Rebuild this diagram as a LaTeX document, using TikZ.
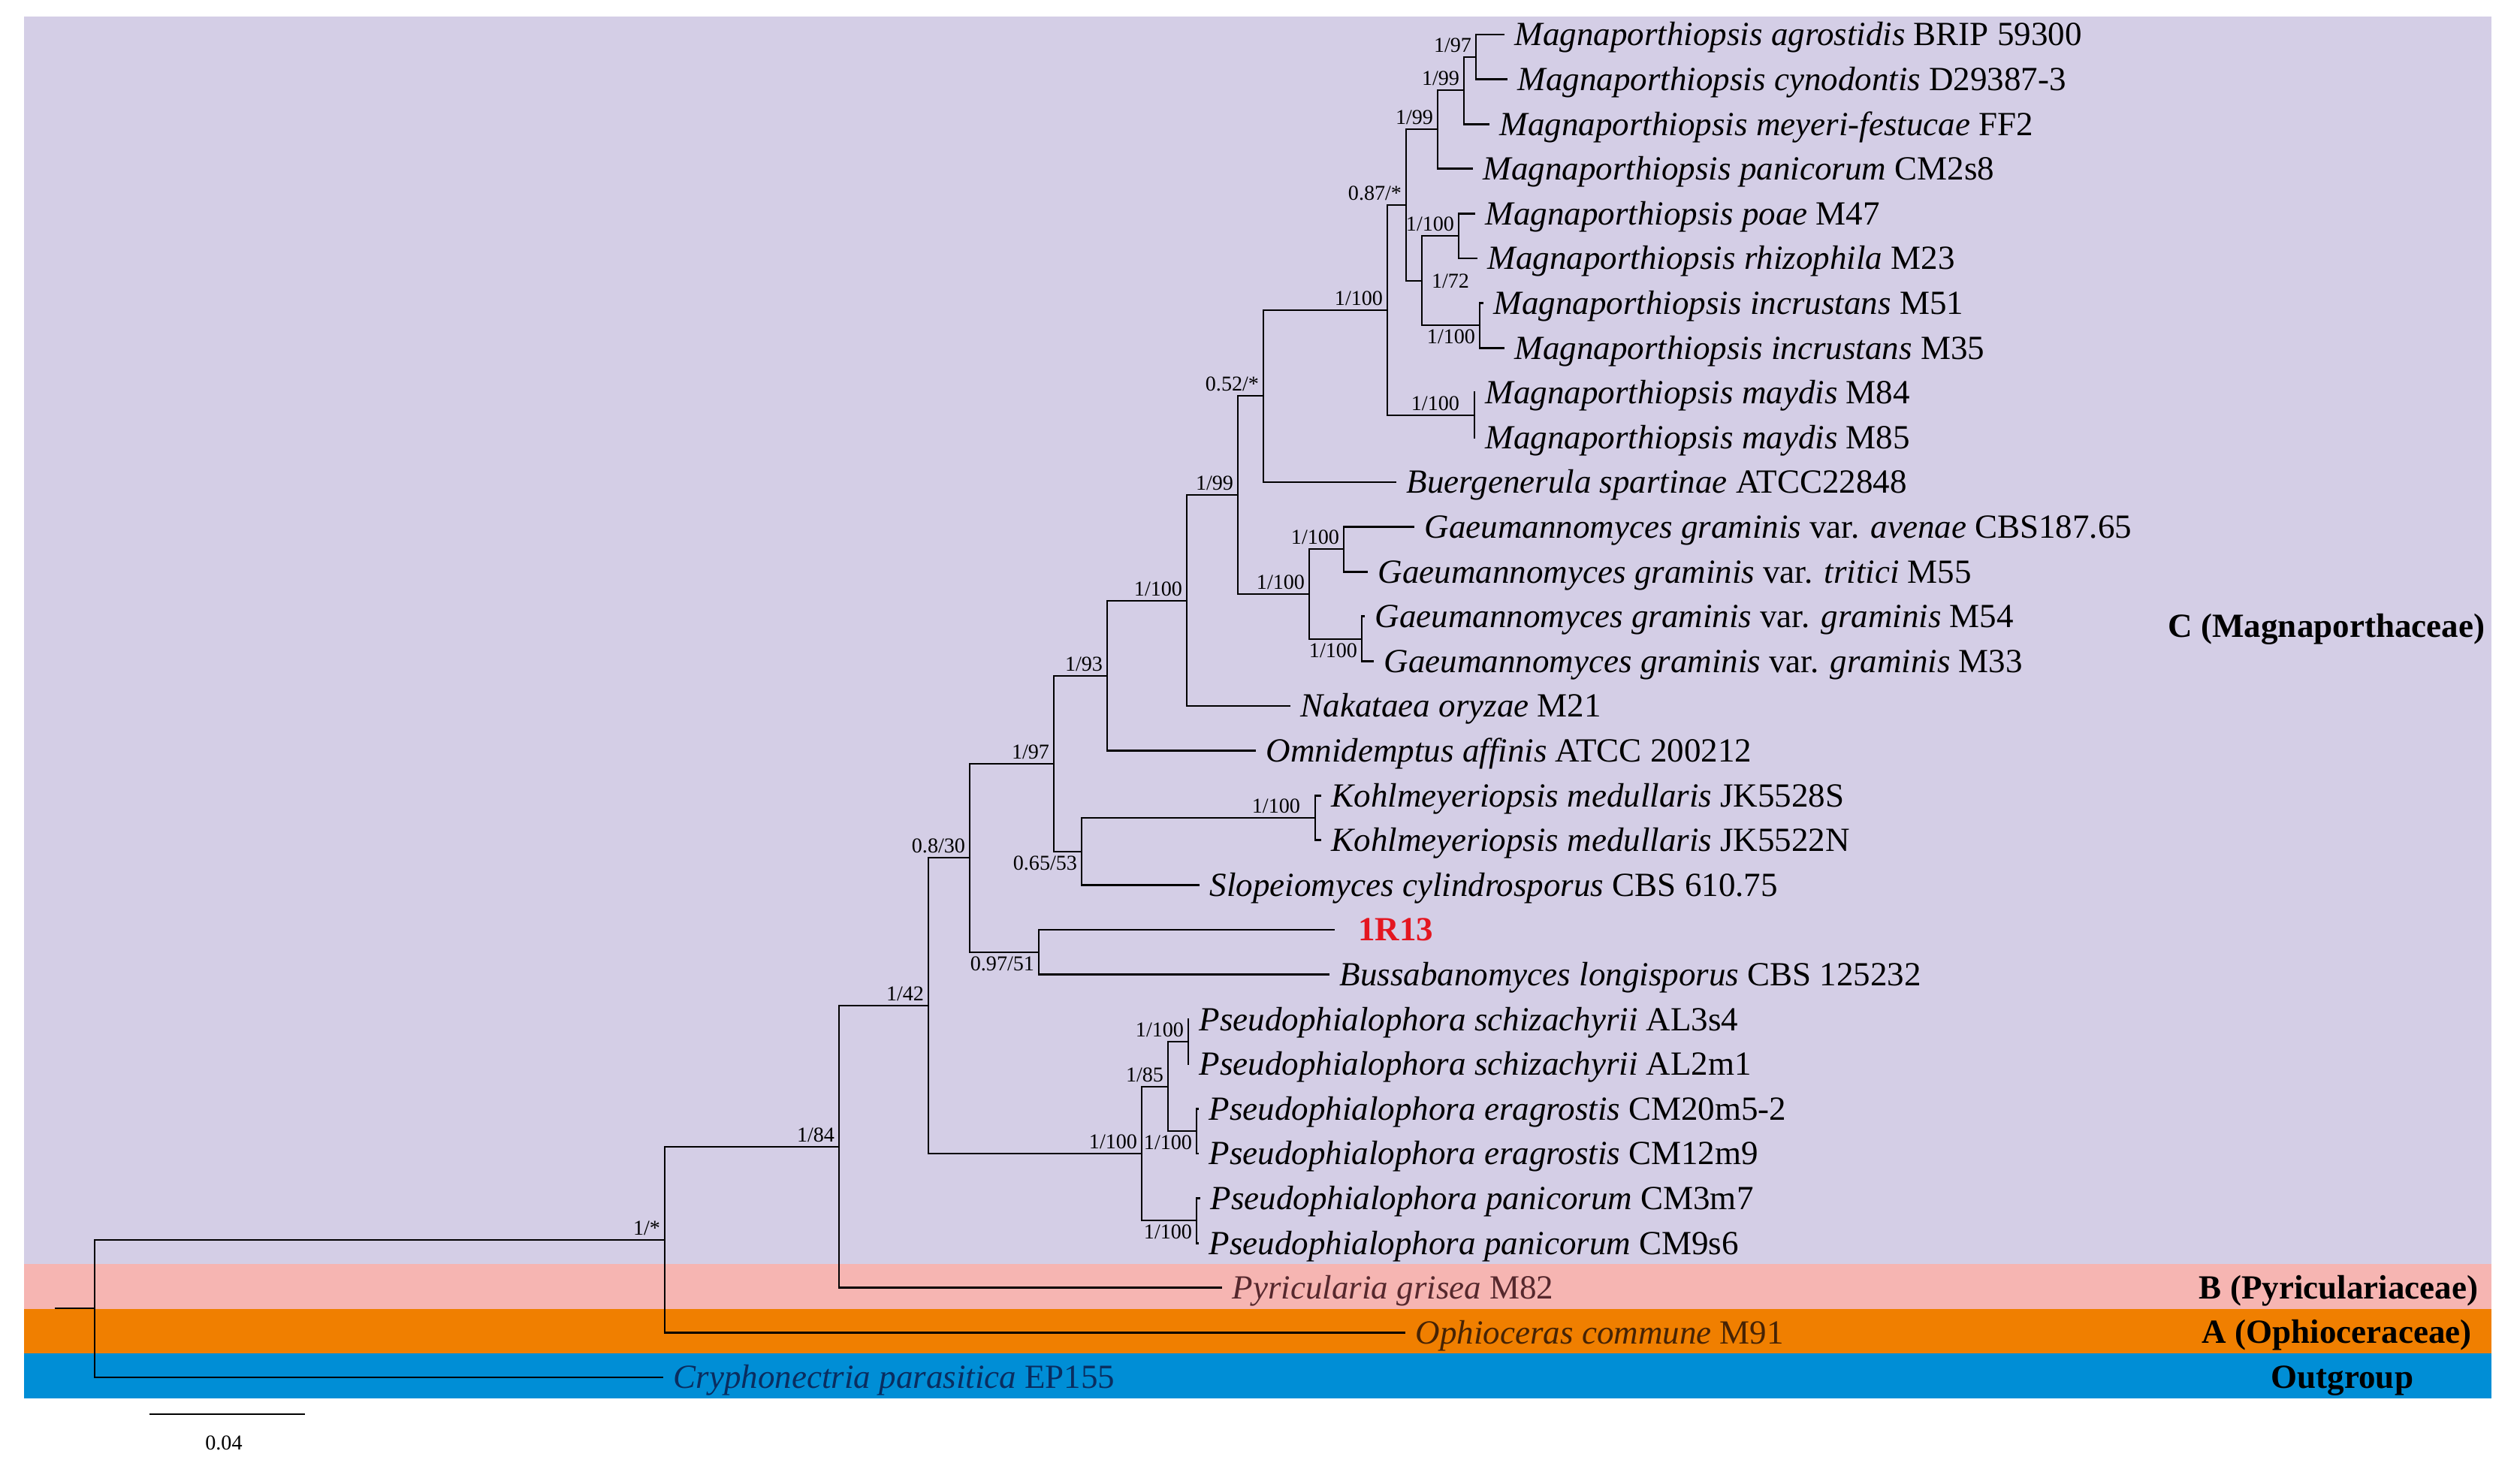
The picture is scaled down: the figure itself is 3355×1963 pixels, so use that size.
\documentclass[tikz,border=0pt]{standalone}
\usepackage{fontspec}
\setmainfont{Liberation Serif}
\usepackage{xcolor}
\usepackage{tikz}

\definecolor{cladeC}{RGB}{212,206,230}
\definecolor{cladeB}{RGB}{246,181,178}
\definecolor{cladeA}{RGB}{240,127,0}
\definecolor{outgrp}{RGB}{0,142,214}
\definecolor{isolate}{RGB}{228,22,32}
\definecolor{inkB}{RGB}{85,40,45}
\definecolor{inkA}{RGB}{70,35,5}
\definecolor{inkO}{RGB}{10,45,95}

\begin{document}
\begin{tikzpicture}[
  x=0.01cm, y=-0.01cm,
  branch/.style={draw=black,line width=0.8pt,line cap=rect},
  taxon/.style={anchor=west,inner ysep=0pt,inner xsep=4pt,text height=8.5pt,text depth=0pt,font=\fontsize{12.8}{15}\selectfont},
  support/.style={anchor=south east,inner sep=1.5pt,font=\fontsize{8}{9}\selectfont},
  clade/.style={anchor=west,inner sep=0pt,text height=8.5pt,text depth=0pt,font=\fontsize{12.8}{15}\selectfont\bfseries}
]
  \useasboundingbox (0,0) rectangle (3355,1963);

  \fill[cladeC] (32,22) rectangle (3317,1683);
  \fill[cladeB] (32,1683) rectangle (3317,1743);
  \fill[cladeA] (32,1743) rectangle (3317,1802);
  \fill[outgrp] (32,1802) rectangle (3317,1862);

  \coordinate (r0)  at (74, 1742);
  \coordinate (r)   at (126, 1742);
  \coordinate (n1)  at (885, 1651);
  \coordinate (n2)  at (1117, 1527);
  \coordinate (n3)  at (1236, 1339);
  \coordinate (n4)  at (1291, 1142);
  \coordinate (n5)  at (1403, 1017);
  \coordinate (n6)  at (1383, 1268);
  \coordinate (n7)  at (1474, 900);
  \coordinate (n8)  at (1440, 1134);
  \coordinate (n9)  at (1751, 1089);
  \coordinate (n10) at (1580, 800);
  \coordinate (n11) at (1648, 659);
  \coordinate (n12) at (1682, 527);
  \coordinate (n13) at (1847, 413);
  \coordinate (n14) at (1872, 273);
  \coordinate (n15) at (1914, 172);
  \coordinate (n16) at (1949, 120);
  \coordinate (n17) at (1965, 76);
  \coordinate (n18) at (1893, 374);
  \coordinate (n19) at (1942, 314);
  \coordinate (n20) at (1970, 433);
  \coordinate (n21) at (1963, 553);
  \coordinate (n22) at (1743, 791);
  \coordinate (n23) at (1789, 731);
  \coordinate (n24) at (1813, 851);
  \coordinate (n25) at (1520, 1536);
  \coordinate (n26) at (1555, 1447);
  \coordinate (n27) at (1582, 1387);
  \coordinate (n28) at (1593, 1506);
  \coordinate (n29) at (1593, 1625);

  \node[taxon] (t1)  at (2002, 46)   {\textit{Magnaporthiopsis agrostidis} BRIP 59300};
  \node[taxon] (t2)  at (2006, 105.6) {\textit{Magnaporthiopsis cynodontis} D29387-3};
  \node[taxon] (t3)  at (1982, 165.2) {\textit{Magnaporthiopsis meyeri-festucae} FF2};
  \node[taxon] (t4)  at (1960, 224.8) {\textit{Magnaporthiopsis panicorum} CM2s8};
  \node[taxon] (t5)  at (1963, 284.4) {\textit{Magnaporthiopsis poae} M47};
  \node[taxon] (t6)  at (1966, 344)   {\textit{Magnaporthiopsis rhizophila} M23};
  \node[taxon] (t7)  at (1974, 403.6) {\textit{Magnaporthiopsis incrustans} M51};
  \node[taxon] (t8)  at (2002, 463.2) {\textit{Magnaporthiopsis incrustans} M35};
  \node[taxon] (t9)  at (1963, 522.8) {\textit{Magnaporthiopsis maydis} M84};
  \node[taxon] (t10) at (1963, 582.4) {\textit{Magnaporthiopsis maydis} M85};
  \node[taxon] (t11) at (1858, 642)   {\textit{Buergenerula spartinae} ATCC22848};
  \node[taxon] (t12) at (1882, 701.6) {\textit{Gaeumannomyces graminis} var. \textit{avenae} CBS187.65};
  \node[taxon] (t13) at (1820, 761.2) {\textit{Gaeumannomyces graminis} var. \textit{tritici} M55};
  \node[taxon] (t14) at (1816, 820.8) {\textit{Gaeumannomyces graminis} var. \textit{graminis} M54};
  \node[taxon] (t15) at (1828, 880.4) {\textit{Gaeumannomyces graminis} var. \textit{graminis} M33};
  \node[taxon] (t16) at (1717, 940)   {\textit{Nakataea oryzae} M21};
  \node[taxon] (t17) at (1671, 999.6) {\textit{Omnidemptus affinis} ATCC 200212};
  \node[taxon] (t18) at (1758, 1059.2) {\textit{Kohlmeyeriopsis medullaris} JK5528S};
  \node[taxon] (t19) at (1758, 1118.8) {\textit{Kohlmeyeriopsis medullaris} JK5522N};
  \node[taxon] (t20) at (1596, 1178.4) {\textit{Slopeiomyces cylindrosporus} CBS 610.75};
  \node[taxon,inner xsep=9pt,text=isolate] (t21) at (1776, 1238) {\textbf{1R13}};
  \node[taxon] (t22) at (1769, 1297.6) {\textit{Bussabanomyces longisporus} CBS 125232};
  \node[taxon] (t23) at (1582, 1357.2) {\textit{Pseudophialophora schizachyrii} AL3s4};
  \node[taxon] (t24) at (1582, 1416.8) {\textit{Pseudophialophora schizachyrii} AL2m1};
  \node[taxon] (t25) at (1595, 1476.4) {\textit{Pseudophialophora eragrostis} CM20m5-2};
  \node[taxon] (t26) at (1595, 1536)   {\textit{Pseudophialophora eragrostis} CM12m9};
  \node[taxon] (t27) at (1597, 1595.6) {\textit{Pseudophialophora panicorum} CM3m7};
  \node[taxon] (t28) at (1595, 1655.2) {\textit{Pseudophialophora panicorum} CM9s6};
  \node[taxon,text=inkB] (t29) at (1626, 1714.8) {\textit{Pyricularia grisea} M82};
  \node[taxon,text=inkA] (t30) at (1870, 1774.4) {\textit{Ophioceras commune} M91};
  \node[taxon,text=inkO] (t31) at (882, 1834)    {\textit{Cryphonectria parasitica} EP155};

  \draw[branch] (r0) -- (r);
  \draw[branch] (r) |- (n1);
  \draw[branch] (r) |- (t31.west);
  \draw[branch] (n1) |- (n2);
  \draw[branch] (n1) |- (t30.west);
  \draw[branch] (n2) |- (n3);
  \draw[branch] (n2) |- (t29.west);
  \draw[branch] (n3) |- (n4);
  \draw[branch] (n3) |- (n25);
  \draw[branch] (n4) |- (n5);
  \draw[branch] (n4) |- (n6);
  \draw[branch] (n6) |- (t21.west);
  \draw[branch] (n6) |- (t22.west);
  \draw[branch] (n5) |- (n7);
  \draw[branch] (n5) |- (n8);
  \draw[branch] (n7) |- (n10);
  \draw[branch] (n7) |- (t17.west);
  \draw[branch] (n10) |- (n11);
  \draw[branch] (n10) |- (t16.west);
  \draw[branch] (n11) |- (n12);
  \draw[branch] (n11) |- (n22);
  \draw[branch] (n12) |- (n13);
  \draw[branch] (n12) |- (t11.west);
  \draw[branch] (n13) |- (n14);
  \draw[branch] (n13) |- (n21);
  \draw[branch] (n14) |- (n15);
  \draw[branch] (n14) |- (n18);
  \draw[branch] (n15) |- (n16);
  \draw[branch] (n15) |- (t4.west);
  \draw[branch] (n16) |- (n17);
  \draw[branch] (n16) |- (t3.west);
  \draw[branch] (n17) |- (t1.west);
  \draw[branch] (n17) |- (t2.west);
  \draw[branch] (n18) |- (n19);
  \draw[branch] (n18) |- (n20);
  \draw[branch] (n19) |- (t5.west);
  \draw[branch] (n19) |- (t6.west);
  \draw[branch] (n20) |- (t7.west);
  \draw[branch] (n20) |- (t8.west);
  \draw[branch] (n21) |- (t9.west);
  \draw[branch] (n21) |- (t10.west);
  \draw[branch] (n22) |- (n23);
  \draw[branch] (n22) |- (n24);
  \draw[branch] (n23) |- (t12.west);
  \draw[branch] (n23) |- (t13.west);
  \draw[branch] (n24) |- (t14.west);
  \draw[branch] (n24) |- (t15.west);
  \draw[branch] (n8) |- (n9);
  \draw[branch] (n8) |- (t20.west);
  \draw[branch] (n9) |- (t18.west);
  \draw[branch] (n9) |- (t19.west);
  \draw[branch] (n25) |- (n26);
  \draw[branch] (n25) |- (n29);
  \draw[branch] (n26) |- (n27);
  \draw[branch] (n26) |- (n28);
  \draw[branch] (n27) |- (t23.west);
  \draw[branch] (n27) |- (t24.west);
  \draw[branch] (n28) |- (t25.west);
  \draw[branch] (n28) |- (t26.west);
  \draw[branch] (n29) |- (t27.west);
  \draw[branch] (n29) |- (t28.west);

  \node[support] (b1)  at (n1)  {1/*};
  \node[support] (b2)  at (n2)  {1/84};
  \node[support] (b3)  at (n3)  {1/42};
  \node[support] (b4)  at (n4)  {0.8/30};
  \node[support] (b5)  at (n5)  {1/97};
  \node[support,anchor=north east] (b6) at (n6) {0.97/51};
  \node[support] (b7)  at (n7)  {1/93};
  \node[support,anchor=north east] (b8) at (n8) {0.65/53};
  \node[support,xshift=-4pt] (b9) at (n9) {1/100};
  \node[support] (b10) at (n10) {1/100};
  \node[support] (b11) at (n11) {1/99};
  \node[support] (b12) at (n12) {0.52/*};
  \node[support] (b13) at (n13) {1/100};
  \node[support] (b14) at (n14) {0.87/*};
  \node[support] (b15) at (n15) {1/99};
  \node[support] (b16) at (n16) {1/99};
  \node[support] (b17) at (n17) {1/97};
  \node[support,anchor=west,xshift=2pt] (b18) at (n18) {1/72};
  \node[support] (b19) at (n19) {1/100};
  \node[support,anchor=north east] (b20) at (n20) {1/100};
  \node[support,xshift=-4pt] (b21) at (n21) {1/100};
  \node[support] (b22) at (n22) {1/100};
  \node[support] (b23) at (n23) {1/100};
  \node[support,anchor=north east] (b24) at (n24) {1/100};
  \node[support] (b25) at (n25) {1/100};
  \node[support] (b26) at (n26) {1/85};
  \node[support] (b27) at (n27) {1/100};
  \node[support,anchor=north east] (b28) at (n28) {1/100};
  \node[support,anchor=north east] (b29) at (n29) {1/100};

  \node[clade] (cC) at (2886, 834)  {C (Magnaporthaceae)};
  \node[clade] (cB) at (2927, 1715) {B (Pyriculariaceae)};
  \node[clade] (cA) at (2931, 1774) {A (Ophioceraceae)};
  \node[clade] (cO) at (3023, 1834) {Outgroup};

  \coordinate (s0) at (200, 1883);
  \coordinate (s1) at (405, 1883);
  \draw[branch] (s0) -- (s1);
  \node[support,anchor=center] (sl) at (298, 1921) {0.04};
\end{tikzpicture}
\end{document}
